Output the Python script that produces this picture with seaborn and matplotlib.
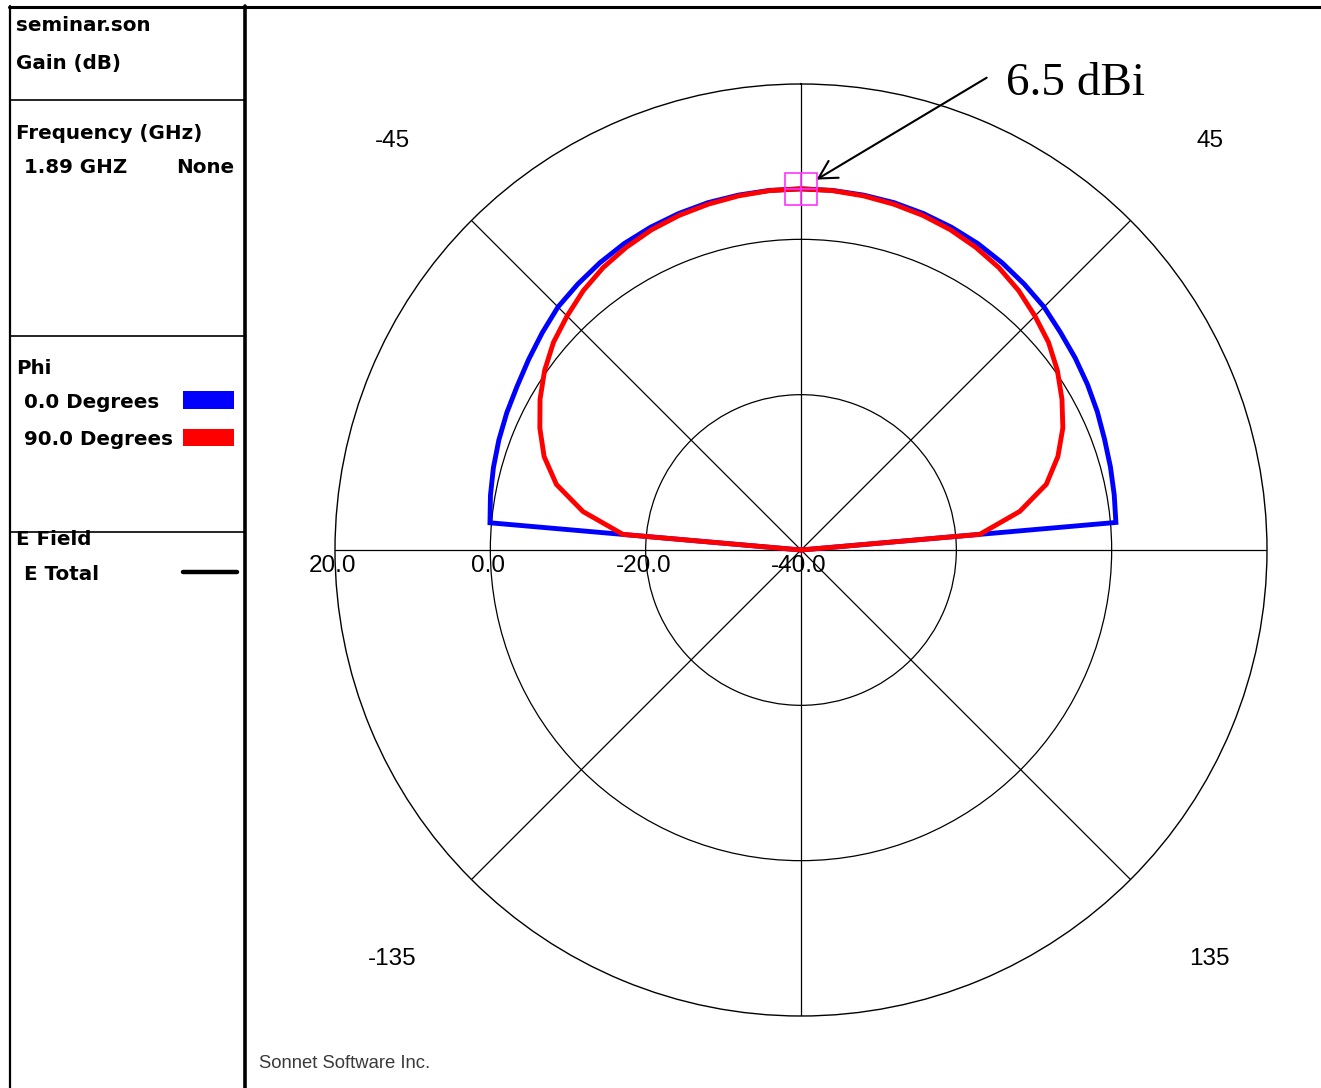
import numpy as np
import pandas as pd
import matplotlib
matplotlib.use("Agg")
import matplotlib.pyplot as plt
from matplotlib.lines import Line2D
from matplotlib.patches import Rectangle
import seaborn as sns

# ---- far-field gain cuts (dB) vs. theta (deg) ----
theta_deg = list(range(-90, 95, 5))
gain_phi0 = [-40.0, 0.2, 0.6, 1.0, 1.4, 1.8, 2.2, 2.8, 3.5, 4.25, 4.7, 5.15, 5.55,
             5.85, 6.1, 6.3, 6.4, 6.48, 6.5, 6.48, 6.4, 6.3, 6.1, 5.85, 5.55,
             5.15, 4.7, 4.25, 3.6, 3.1, 2.6, 2.1, 1.6, 1.25, 0.95, 0.7, -40.0]
gain_phi90 = [-40.0, -17.0, -11.5, -7.4, -4.8, -2.9, -1.2, 0.3, 1.6, 2.6, 3.6,
              4.4, 5.0, 5.5, 5.85, 6.1, 6.3, 6.45, 6.5, 6.45, 6.3, 6.1, 5.85,
              5.5, 5.0, 4.4, 3.6, 2.6, 1.6, 0.3, -1.2, -2.8, -4.8, -7.3, -11.4,
              -16.9, -40.0]
series_names = ["0.0 Degrees", "90.0 Degrees"]
series_colors = ["#0000ff", "#ff0000"]

peak_gain = 6.5
peak_label = "6.5 dBi"

r_min, r_max = -40, 20
ring_values = [-20, 0]
ring_labels = ["20.0", "0.0", "-20.0", "-40.0"]
ring_label_values = [20, 0, -20, -40]
angle_labels = ["-45", "45", "-135", "135"]
angle_label_deg = [-45, 45, -135, 135]

panel_header = ["seminar.son", "Gain (dB)"]
freq_title = "Frequency (GHz)"
freq_value = "1.89 GHZ"
freq_note = "None"
phi_title = "Phi"
field_title = "E Field"
field_entry = "E Total"
footer = "Sonnet Software Inc."

# ---- figure ----
W, H = 1321, 1088
sns.set_style("white")
plt.rcParams["font.family"] = ["Liberation Sans", "DejaVu Sans"]

fig = plt.figure(figsize=(W / 100, H / 100), dpi=100)
fig.patch.set_facecolor("white")


def fx(x):
    return x / W


def fy(y):
    return 1 - y / H


# polar plot area: centre (801, 550), outer ring radius 466 px
R = 466
cx, cy = 801, 550
ax = fig.add_axes([fx(cx - R), fy(cy + R), 2 * R / W, 2 * R / H],
                  projection="polar")
ax.set_theta_zero_location("N")
ax.set_theta_direction(-1)
ax.set_ylim(r_min, r_max)
ax.set_rgrids(ring_values, labels=["", ""])
ax.set_thetagrids(np.arange(0, 360, 45), labels=[""] * 8)
ax.grid(True, color="black", lw=0.9)
ax.spines["polar"].set_color("black")
ax.spines["polar"].set_linewidth(1.0)
ax.set_facecolor("white")

df = pd.DataFrame({
    "theta": np.deg2rad(theta_deg * 2),
    "gain": gain_phi0 + gain_phi90,
    "phi": [series_names[0]] * len(theta_deg) + [series_names[1]] * len(theta_deg),
})
for name, color in zip(series_names, series_colors):
    sns.lineplot(data=df[df["phi"] == name], x="theta", y="gain", ax=ax,
                 color=color, lw=3.5, sort=False, legend=False,
                 solid_joinstyle="miter", zorder=3)
ax.set_xlabel("")
ax.set_ylabel("")

# peak marker
mk = "#ff33ff"
ax.plot(0, peak_gain, marker="s", ms=23.5, mfc="none", mec=mk, mew=1.2,
        zorder=4, clip_on=False)
ax.plot(0, peak_gain, marker="+", ms=23.5, mec=mk, mew=1.2, zorder=4,
        clip_on=False)

# ring labels along the left horizontal spoke
for lab, val in zip(ring_labels, ring_label_values):
    ax.annotate(lab, xy=(-np.pi / 2, val), xytext=(-1.5, -11.5),
                textcoords="offset points", ha="center", va="center",
                fontsize=17.5, color="black", annotation_clip=False)

# angle labels
for lab, deg in zip(angle_labels, angle_label_deg):
    ax.text(np.deg2rad(deg), 34.4, lab, ha="center", va="center",
            fontsize=17.5, color="black", clip_on=False)

# peak annotation
ax.annotate("", xy=(0, peak_gain), xycoords="data",
            xytext=(986.7, H - 77.7), textcoords="figure pixels",
            arrowprops=dict(arrowstyle="->,head_length=0.4,head_width=0.22",
                            mutation_scale=32, lw=1.5, color="black",
                            shrinkA=0, shrinkB=13),
            annotation_clip=False)
fig.text(fx(1006), fy(95), peak_label, family="Liberation Serif",
         fontsize=34, ha="left", va="baseline", color="black")

# ---- left information panel ----
def hline(y, x0, x1, lw):
    fig.add_artist(Line2D([fx(x0), fx(x1)], [fy(y), fy(y)],
                          transform=fig.transFigure, color="black", lw=lw))


def vline(x, y0, y1, lw):
    fig.add_artist(Line2D([fx(x), fx(x)], [fy(y0), fy(y1)],
                          transform=fig.transFigure, color="black", lw=lw))


hline(6.5, 9, W, 2.2)
vline(9.8, 6, H, 1.6)
vline(244.5, 6, H, 2.6)
for yy in (99.5, 336, 531.5):
    hline(yy, 10, 244, 1.2)

bold = dict(family=["DejaVu Sans"], fontweight="bold", fontsize=14.3,
            color="black", va="baseline")
fig.text(fx(16), fy(31), panel_header[0], **bold)
fig.text(fx(16), fy(69.5), panel_header[1], **bold)
fig.text(fx(16), fy(139), freq_title, **bold)
fig.text(fx(24), fy(173), freq_value, **bold)
fig.text(fx(234), fy(173), freq_note, ha="right", **bold)
fig.text(fx(16), fy(374), phi_title, **bold)
fig.text(fx(24), fy(408), series_names[0], **bold)
fig.text(fx(24), fy(445), series_names[1], **bold)
fig.text(fx(16), fy(545), field_title, **bold)
fig.text(fx(24), fy(580), field_entry, **bold)

for (y0, y1), color in zip([(391, 408.5), (428.5, 446)], series_colors):
    fig.add_artist(Rectangle((fx(183), fy(y1)), (234 - 183) / W, (y1 - y0) / H,
                             transform=fig.transFigure, facecolor=color,
                             edgecolor="none"))
fig.add_artist(Line2D([fx(183), fx(237)], [fy(572), fy(572)],
                      transform=fig.transFigure, color="black", lw=3.2,
                      solid_capstyle="round"))

fig.text(fx(259), fy(1063), footer, fontsize=13.3, color="#3a3a3a",
         ha="left", va="center")

fig.savefig("out.png", dpi=100, facecolor="white")
